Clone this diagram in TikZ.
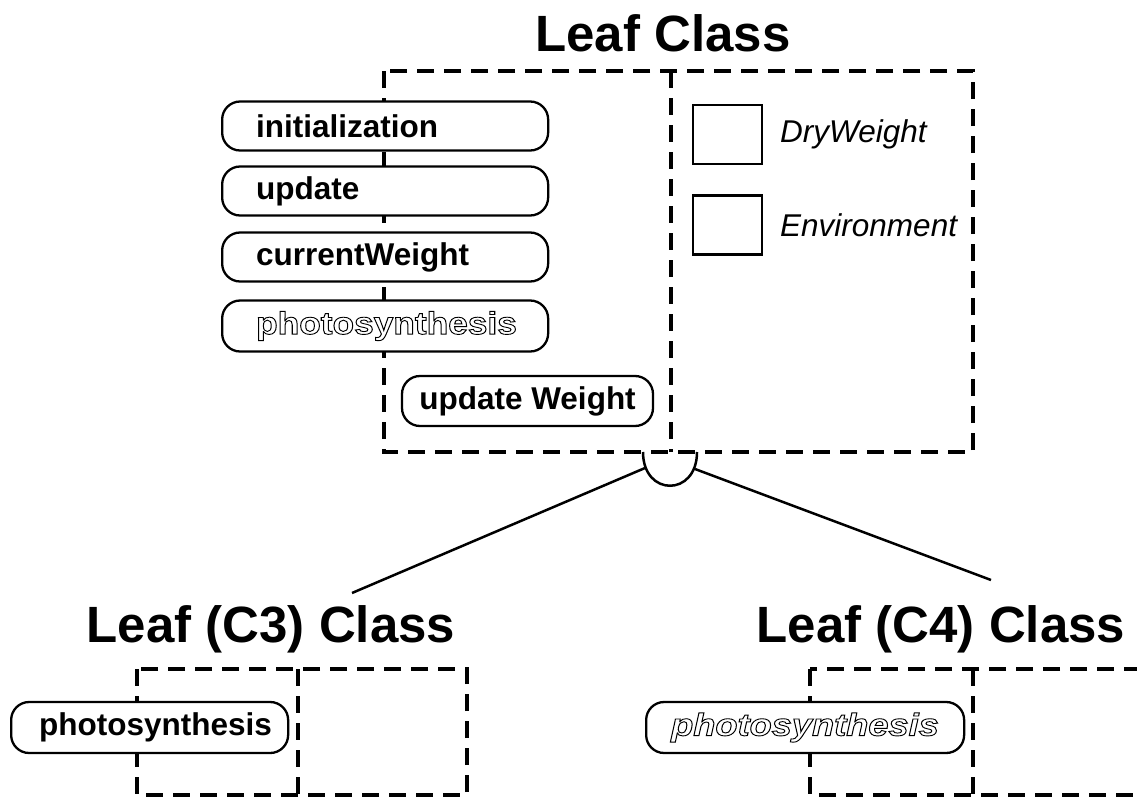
\documentclass[tikz,border=0pt]{standalone}
\usepackage{fontspec}
\setmainfont{Liberation Sans}
\usepackage{graphicx}
\newcommand\boxtext[3]{\makebox[#1][l]{\hspace*{#2}#3}}
% outlined (stroked, unfilled) glyphs through the PDF text rendering mode
\newcommand\hollow[1]{\special{pdf:literal direct 1 Tr 0.9 w}#1\special{pdf:literal direct 0 Tr}}
\tikzset{
  title/.style={font=\fontsize{51}{56}\selectfont\bfseries, inner sep=0pt},
  methodbox/.style={draw, line width=2.3pt, rounded corners=18pt, fill=white,
    minimum height=49pt, inner xsep=0pt, inner ysep=0pt, font=\fontsize{31.5}{36}\selectfont\bfseries},
  attrbox/.style={draw, line width=2.3pt, minimum width=69pt, minimum height=59pt, inner sep=0pt},
  attrlabel/.style={font=\fontsize{31.5}{36}\selectfont\itshape, inner sep=0pt, anchor=west},
  classframe/.style={line width=4pt, dash pattern=on 17pt off 10pt},
  link/.style={line width=2.5pt}
}
\begin{document}
\begin{tikzpicture}[x=1pt, y=-1pt]
\useasboundingbox (0,0) rectangle (1137,800);
\clip (0,0) rectangle (1137,800);

% ---------- Leaf Class ----------
\node[title, anchor=base] (leaftitle) at (663,52) {Leaf Class};
\draw[classframe] (384,71) rectangle (973,452);
\draw[classframe] (671,71) -- (671,452);

\node[methodbox, anchor=west] (init) at (221,126) {\boxtext{326pt}{34pt}{initialization}};
\node[methodbox, anchor=west] (upd)  at (221,191) {\boxtext{326pt}{34pt}{update}};
\node[methodbox, anchor=west] (cw)   at (221,257) {\boxtext{326pt}{34pt}{currentWeight}};
\node[methodbox, anchor=west, minimum height=51pt] (ps) at (221,326) {\boxtext{326pt}{34pt}{\scalebox{1.12}[1]{\hollow{photosynthesis}}}};
\node[methodbox, minimum width=251pt, minimum height=50pt] (uw) at (527.5,401) {update Weight};

\node[attrbox] (dw)  at (727.5,134.5) {};
\node[attrbox] (env) at (727.5,225) {};
\node[attrlabel] (dwl)  at (780,134.5) {DryWeight};
\node[attrlabel] (envl) at (780,225) {Environment};

% ---------- generalisation marker and links ----------
\coordinate (gl) at (643,452);
\coordinate (gr) at (697,452);
\draw[link] (gl) .. controls (643,497) and (697,497) .. (gr);
\coordinate (jl) at (645,468);
\coordinate (jr) at (695,469);
\coordinate (c3end) at (352,593);
\coordinate (c4end) at (991,580);
\draw[link] (jl) -- (c3end);
\draw[link] (jr) -- (c4end);

% ---------- Leaf (C3) Class ----------
\node[title, anchor=base] (c3title) at (271,642) {Leaf (C3) Class};
\draw[classframe] (137,669) rectangle (467,795);
\draw[classframe] (298,669) -- (298,795);
\node[methodbox, anchor=west, minimum height=51pt] (c3ps) at (10,727.5) {\boxtext{277pt}{28pt}{photosynthesis}};

% ---------- Leaf (C4) Class ----------
\node[title, anchor=base] (c4title) at (941,642) {Leaf (C4) Class};
\draw[classframe] (810,669) rectangle (1160,795);
\draw[classframe] (973,669) -- (973,795);
\node[methodbox, anchor=west, minimum height=51pt] (c4ps) at (645,727.5) {\boxtext{318pt}{25pt}{\scalebox{1.15}[1]{\itshape\hollow{photosynthesis}}}};
\end{tikzpicture}
\end{document}
